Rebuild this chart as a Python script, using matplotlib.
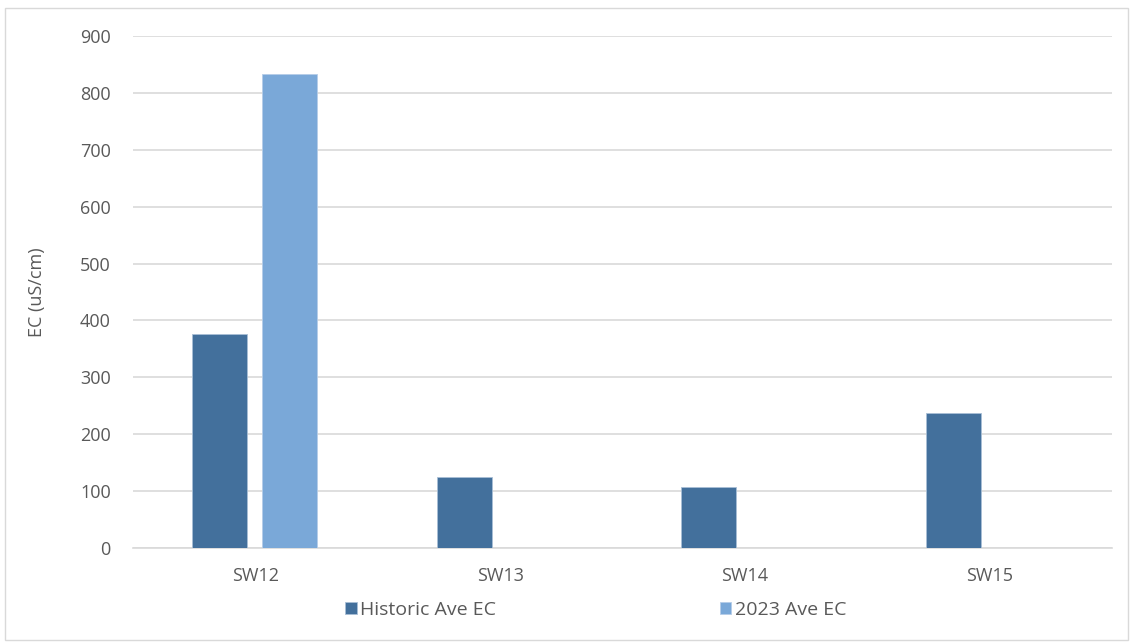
import matplotlib.pyplot as plt
import numpy as np
from matplotlib.patches import Rectangle

sites = ["SW12", "SW13", "SW14", "SW15"]
historic = [376, 124, 107, 238]
ec2023 = [833, 0, 0, 0]
labels = ["Historic Ave EC", "2023 Ave EC"]

plt.rcParams['font.family'] = ['Open Sans', 'DejaVu Sans']
txt = '#595959'

fig = plt.figure(figsize=(11.34, 6.43), dpi=100)
ax = fig.add_axes([133 / 1134, 1 - 548 / 643, (1112 - 133) / 1134, (548 - 36) / 643])

x = np.arange(len(sites))
w = 0.225
ax.bar(x - 0.147, historic, w, color='#43709c', edgecolor='#a9bfd6', linewidth=0.6,
       label=labels[0], zorder=3)
vals = np.array(ec2023, dtype=float)
mask = vals > 0
ax.bar(x[mask] + 0.14, vals[mask], w, color='#7aa8d8', edgecolor='#b5cde8', linewidth=0.6,
       label=labels[1], zorder=3)

ax.set_xlim(-0.5, 3.5)
ax.set_ylim(0, 900)
ax.set_yticks(range(0, 901, 100))
ax.set_xticks(x)
ax.set_xticklabels(sites)
ax.grid(axis='y', color='#d9d9d9', linewidth=1.2, zorder=0)
for s in ['top', 'right', 'left']:
    ax.spines[s].set_visible(False)
ax.spines['bottom'].set_color('#d9d9d9')
ax.spines['bottom'].set_linewidth(1.2)
ax.tick_params(axis='both', length=0, labelsize=13, colors=txt)
ax.tick_params(axis='y', pad=16)
ax.tick_params(axis='x', pad=14)
ax.set_ylabel("EC (uS/cm)", fontsize=13, color=txt)
ax.yaxis.set_label_coords(-0.089, 0.5)

fig.legend(loc='center', bbox_to_anchor=(596 / 1134, 1 - 610 / 643), ncol=2, frameon=False,
           fontsize=14, labelcolor=txt, handlelength=0.57, handleheight=0.57,
           handletextpad=0.2, columnspacing=11.5, borderpad=0)

fig.patches.append(Rectangle((5 / 1134, 3 / 643), 1123 / 1134, 632 / 643,
                             transform=fig.transFigure, fill=False,
                             edgecolor='#d9d9d9', linewidth=1))

fig.savefig("out.png", dpi=100)
